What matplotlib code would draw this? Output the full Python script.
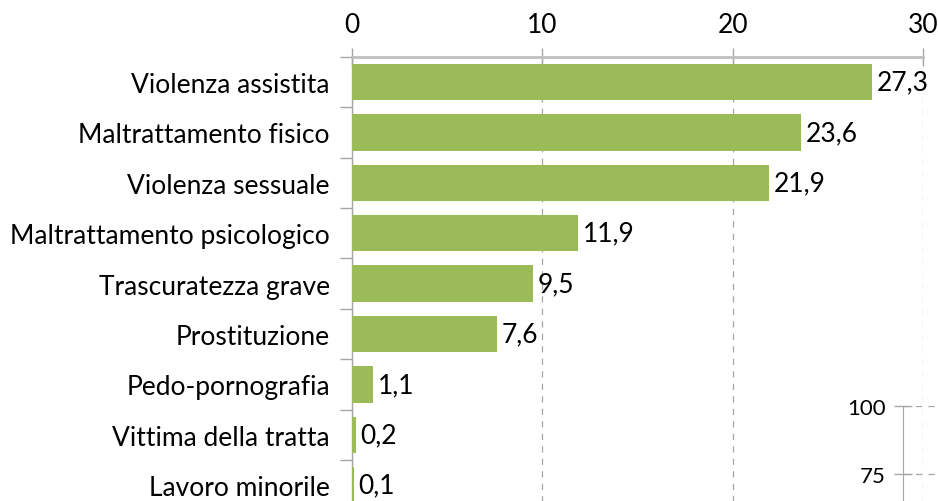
import matplotlib.pyplot as plt

categorie = ["Violenza assistita", "Maltrattamento fisico", "Violenza sessuale",
             "Maltrattamento psicologico", "Trascuratezza grave", "Prostituzione",
             "Pedo-pornografia", "Vittima della tratta", "Lavoro minorile"]
valori = [27.3, 23.6, 21.9, 11.9, 9.5, 7.6, 1.1, 0.2, 0.1]
x_ticks = [0, 10, 20, 30]
inset_ticks = [75, 100]

plt.rcParams['font.family'] = ['Lato', 'DejaVu Sans']
fs = 19
grigio = "#A6A6A6"

fig = plt.figure(figsize=(9.38, 5.02), dpi=100)
ax = fig.add_axes([352 / 938, 1 - 511.4 / 502, 571 / 938, 453.6 / 502])

pos = list(range(len(categorie)))
ax.barh(pos, valori, height=0.72, color="#9BBB59", zorder=3)
for p, v in zip(pos, valori):
    ax.text(v + 0.25, p, f"{v:.1f}".replace(".", ","), va="center", ha="left", fontsize=fs, zorder=4)

ax.set_xlim(0, 30)
ax.set_ylim(len(categorie) - 0.5, -0.5)
ax.xaxis.tick_top()
ax.set_xticks(x_ticks)
ax.set_xticklabels([str(t) for t in x_ticks], fontsize=fs)
ax.tick_params(axis="x", direction="inout", length=13, width=1, color=grigio, pad=8)
ax.grid(axis="x", linestyle=(0, (5, 5)), color=grigio, linewidth=0.9, zorder=0)

ax.set_yticks(pos)
ax.set_yticklabels(categorie, fontsize=fs)
ax.set_yticks([p + 0.5 for p in pos[:-1]] + [-0.5], minor=True)
ax.tick_params(axis="y", which="major", length=0, pad=16)
ax.tick_params(axis="y", which="minor", direction="out", length=9, width=1, color=grigio)

for s in ["right", "bottom"]:
    ax.spines[s].set_visible(False)
ax.spines["top"].set_color("#BFBFBF")
ax.spines["top"].set_linewidth(2)
ax.spines["left"].set_color(grigio)
ax.spines["left"].set_linewidth(1)

# pezzo di un altro grafico in basso a destra
ax2 = fig.add_axes([903 / 938, 1 - 679 / 502, 0.1, 272 / 502])
ax2.set_ylim(0, 100)
ax2.set_xlim(0, 1)
ax2.set_yticks(inset_ticks)
ax2.set_yticklabels([str(t) for t in inset_ticks], fontsize=16)
ax2.set_xticks([])
ax2.tick_params(axis="y", direction="inout", length=13, width=1, color=grigio, pad=6)
ax2.grid(axis="y", linestyle=(0, (5, 5)), color=grigio, linewidth=0.9)
for s in ["right", "bottom", "top"]:
    ax2.spines[s].set_visible(False)
ax2.spines["left"].set_color(grigio)
ax2.patch.set_alpha(0)

fig.savefig("out.png", dpi=100)
